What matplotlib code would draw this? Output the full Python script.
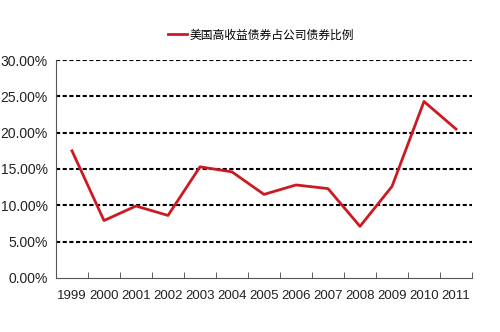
import matplotlib.pyplot as plt
from matplotlib.ticker import FuncFormatter

years = ['1999', '2000', '2001', '2002', '2003', '2004', '2005',
         '2006', '2007', '2008', '2009', '2010', '2011']
ratio = [17.5, 7.9, 9.9, 8.6, 15.3, 14.6, 11.5, 12.8, 12.3, 7.1, 12.6, 24.3, 20.5]
series_name = '美国高收益债券占公司债券比例'

plt.rcParams['font.family'] = ['Liberation Sans Narrow', 'Liberation Sans', 'Noto Sans CJK SC']

fig = plt.figure(figsize=(5, 3.32), dpi=100)
ax = fig.add_axes([0.112, 0.163, 0.832, 0.656])

x = list(range(len(years)))
ax.plot(x, ratio, color='#cc1a22', linewidth=2, label=series_name)

ax.set_xlim(-0.5, len(years) - 0.5)
ax.set_ylim(0, 30)
ax.set_yticks([0, 5, 10, 15, 20, 25, 30])
ax.yaxis.set_major_formatter(FuncFormatter(lambda v, p: '%.2f%%' % v))
ax.set_xticks(x)
ax.set_xticklabels(years)
ax.set_xticks([i + 0.5 for i in x], minor=True)
ax.tick_params(axis='x', which='major', length=0, pad=9, labelsize=9.5, colors='#222222')
ax.tick_params(axis='x', which='minor', direction='in', length=4, color='#444444')
ax.tick_params(axis='y', length=0, pad=6, labelsize=10, colors='#222222')

for v in [5, 10, 15, 20, 25, 30]:
    ax.axhline(v, color='black', linestyle=(0, (2, 1.2)), linewidth=1.5, zorder=0)

for s in ['top', 'right']:
    ax.spines[s].set_visible(False)
ax.spines['left'].set_color('#555555')
ax.spines['bottom'].set_color('#555555')

fig.legend(loc='center', bbox_to_anchor=(0.522, 0.895), frameon=False, handlelength=1.6,
           handletextpad=0.15, prop={'family': ['Noto Sans CJK SC'], 'size': 8.5})

fig.savefig('out.png', dpi=100)
